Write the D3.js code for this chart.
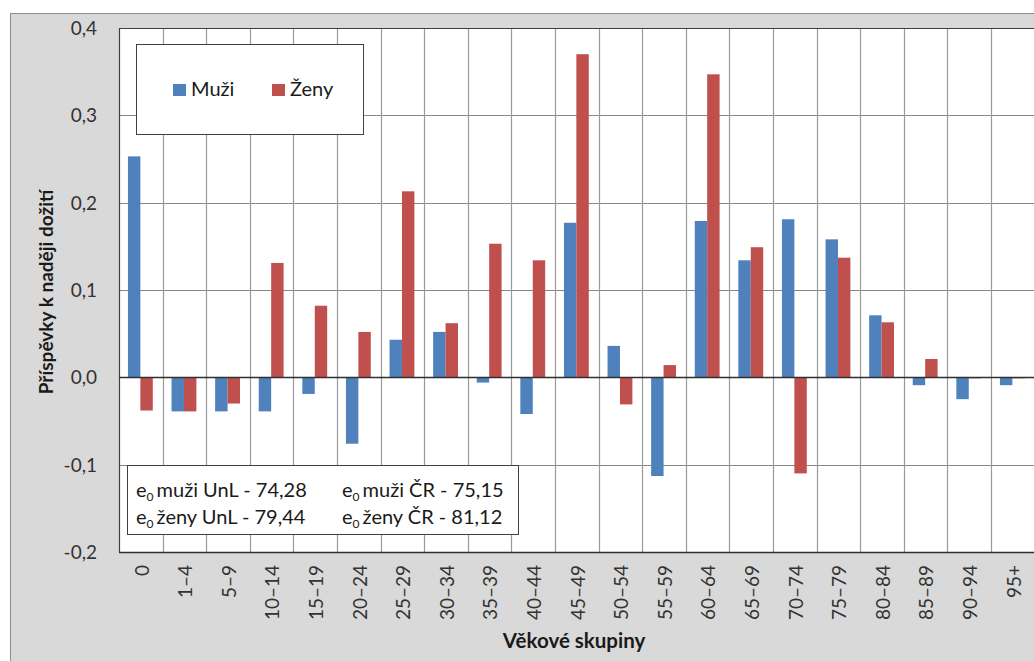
<!DOCTYPE html>
<html>
<head>
<meta charset="utf-8">
<script src="https://cdn.jsdelivr.net/npm/d3@7"></script>
<style>
  html, body { margin: 0; padding: 0; background: #ffffff; }
  svg { display: block; font-family: Lato, "Open Sans", sans-serif; }
</style>
</head>
<body>
<svg id="chart" width="1034" height="661"></svg>
<script>
// Age groups and contributions to life expectancy (years)
const categories = ["0", "1–4", "5–9", "10–14", "15–19", "20–24", "25–29", "30–34", "35–39", "40–44",
  "45–49", "50–54", "55–59", "60–64", "65–69", "70–74", "75–79", "80–84", "85–89", "90–94", "95+"];
const muzi = [0.253, -0.039, -0.039, -0.039, -0.019, -0.076, 0.043, 0.052, -0.006, -0.042,
  0.177, 0.036, -0.113, 0.179, 0.134, 0.181, 0.158, 0.071, -0.009, -0.025, -0.009];
const zeny = [-0.038, -0.039, -0.030, 0.131, 0.082, 0.052, 0.213, 0.062, 0.153, 0.134,
  0.370, -0.031, 0.014, 0.347, 0.149, -0.110, 0.137, 0.063, 0.021, -0.001, -0.001];
const seriesNames = ["Muži", "Ženy"];
const seriesColors = ["#4f81bd", "#c0504d"];
const yTicks = [-0.2, -0.1, 0.0, 0.1, 0.2, 0.3, 0.4];
const yTitle = "Příspěvky k naději dožití";
const xTitle = "Věkové skupiny";
// Life expectancy at birth notes, two rows by two columns
const noteRows = [
  ["muži UnL - 74,28", "muži ČR - 75,15"],
  ["ženy UnL - 79,44", "ženy ČR - 81,12"]
];

const svg = d3.select("#chart");
const plot = { left: 119, top: 28, right: 1034.6, bottom: 552 };

// Chart area background
svg.append("rect")
  .attr("x", 10.5).attr("y", 13.5)
  .attr("width", 1040).attr("height", 660)
  .attr("fill", "#d9d9d9").attr("stroke", "#8c8c8c");

svg.append("rect")
  .attr("x", plot.left).attr("y", plot.top)
  .attr("width", plot.right - plot.left).attr("height", plot.bottom - plot.top)
  .attr("fill", "#ffffff");

const x = d3.scaleBand().domain(categories).range([plot.left, plot.right]).padding(0);
const bw = x.bandwidth();
const xInner = d3.scaleBand().domain(seriesNames).range([bw * 0.205, bw * 0.775]).padding(0);
const y = d3.scaleLinear().domain([-0.2, 0.4]).range([plot.bottom, plot.top]);

const locale = d3.formatLocale({ decimal: ",", thousands: " ", grouping: [3], currency: ["", ""], minus: "-" });
const fmt = locale.format(".1f");

// Horizontal gridlines
svg.append("g").selectAll("line").data(yTicks).join("line")
  .attr("x1", plot.left).attr("x2", plot.right)
  .attr("y1", d => Math.round(y(d)) + 0.5).attr("y2", d => Math.round(y(d)) + 0.5)
  .attr("stroke", "#868686").attr("stroke-width", 1);

// Vertical gridlines at group boundaries
svg.append("g").selectAll("line").data(categories.slice(1)).join("line")
  .attr("x1", d => Math.round(x(d)) + 0.5).attr("x2", d => Math.round(x(d)) + 0.5)
  .attr("y1", plot.top).attr("y2", plot.bottom)
  .attr("stroke", "#9a9a9a").attr("stroke-width", 1.2);

// Bars
const series = [muzi, zeny];
series.forEach((vals, si) => {
  svg.append("g").selectAll("rect").data(vals).join("rect")
    .attr("x", (d, i) => x(categories[i]) + xInner(seriesNames[si]))
    .attr("width", xInner.bandwidth())
    .attr("y", d => Math.min(y(d), y(0)))
    .attr("height", d => Math.max(Math.abs(y(d) - y(0)), 1))
    .attr("fill", seriesColors[si]);
});

// Plot border and zero line
svg.append("path")
  .attr("d", `M${plot.left + 0.5},${plot.bottom + 0.5}V${plot.top + 0.5}H${plot.right}`)
  .attr("fill", "none").attr("stroke", "#404040").attr("stroke-width", 1.2);
svg.append("line")
  .attr("x1", plot.left).attr("x2", plot.right)
  .attr("y1", Math.round(y(0)) + 0.5).attr("y2", Math.round(y(0)) + 0.5)
  .attr("stroke", "#303030").attr("stroke-width", 1.3);
svg.append("line")
  .attr("x1", plot.left).attr("x2", plot.right)
  .attr("y1", Math.round(y(-0.2)) + 0.5).attr("y2", Math.round(y(-0.2)) + 0.5)
  .attr("stroke", "#303030").attr("stroke-width", 1.3);

// Y axis labels
svg.append("g").selectAll("text").data(yTicks).join("text")
  .attr("x", 97).attr("y", d => y(d))
  .attr("dy", "0.36em")
  .attr("text-anchor", "end")
  .attr("font-size", 19).attr("fill", "#333333")
  .text(d => fmt(d));

// X axis labels (rotated)
svg.append("g").selectAll("text").data(categories).join("text")
  .attr("transform", d => `translate(${x(d) + bw / 2 + 1},565) rotate(-90)`)
  .attr("dy", "0.36em")
  .attr("text-anchor", "end")
  .attr("font-size", 19).attr("fill", "#333333")
  .text(d => d);

// Axis titles
svg.append("text")
  .attr("transform", `translate(46,${(plot.top + plot.bottom) / 2 + 2}) rotate(-90)`)
  .attr("dy", "0.36em")
  .attr("text-anchor", "middle")
  .attr("font-size", 19).attr("font-weight", "bold").attr("fill", "#1a1a1a")
  .text(yTitle);

svg.append("text")
  .attr("x", 574).attr("y", 648)
  .attr("text-anchor", "middle")
  .attr("font-size", 20.5).attr("font-weight", "bold").attr("fill", "#1a1a1a")
  .text(xTitle);

// Legend
const legend = svg.append("g");
legend.append("rect")
  .attr("x", 136.5).attr("y", 44.5).attr("width", 227).attr("height", 90)
  .attr("fill", "#ffffff").attr("stroke", "#404040").attr("stroke-width", 1);
const legendX = [173, 272];
seriesNames.forEach((name, i) => {
  legend.append("rect")
    .attr("x", legendX[i]).attr("y", 84).attr("width", 13).attr("height", 12)
    .attr("fill", seriesColors[i]);
  legend.append("text")
    .attr("x", legendX[i] + 18).attr("y", 96)
    .attr("font-size", 20).attr("fill", "#1a1a1a")
    .text(name);
});

// Life expectancy note box
const note = svg.append("g");
note.append("rect")
  .attr("x", 127.5).attr("y", 465.5).attr("width", 391).attr("height", 69)
  .attr("fill", "#ffffff").attr("stroke", "#404040").attr("stroke-width", 1);
const noteColX = [136, 342];
const noteRowY = [497, 524];
noteRows.forEach((row, ri) => {
  row.forEach((label, ci) => {
    const t = note.append("text")
      .attr("x", noteColX[ci]).attr("y", noteRowY[ri])
      .attr("font-size", 20).attr("fill", "#1a1a1a");
    t.append("tspan").text("e");
    t.append("tspan").attr("font-size", 12).attr("dy", 4).text("0");
    t.append("tspan").attr("dy", -4).attr("dx", 3).text(label);
  });
});
</script>
</body>
</html>
